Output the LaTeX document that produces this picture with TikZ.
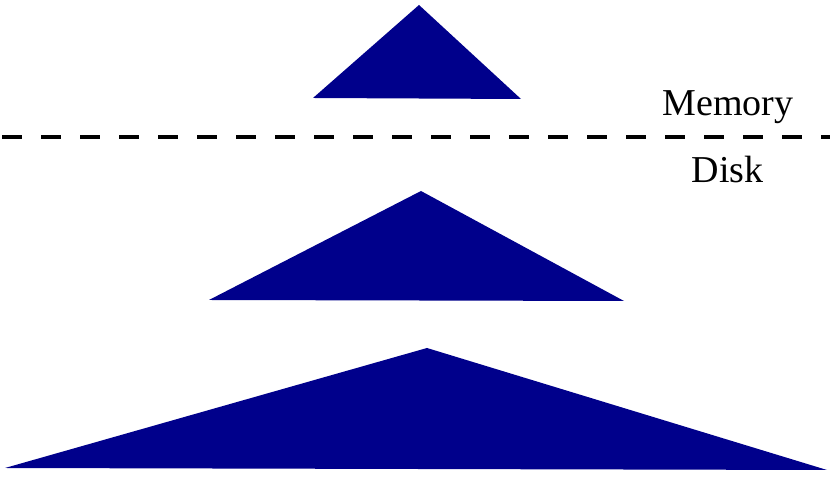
\documentclass[tikz,border=0pt]{standalone}
\usepackage{fontspec}
\setmainfont{Liberation Serif}
\definecolor{navy}{RGB}{0,0,139}
\begin{document}
\begin{tikzpicture}[x=1pt,y=1pt,
  tri/.style={fill=navy,draw=none},
  lbl/.style={font=\fontsize{38}{42}\selectfont,inner sep=0pt,anchor=base},
  sep/.style={line width=4.3pt,dash pattern=on 20pt off 19pt}]
\useasboundingbox (0,0) rectangle (830,478);
\fill[tri] (419,473) -- (313,380) -- (521,379) -- cycle;
\fill[tri] (421,287) -- (209,178) -- (624,177) -- cycle;
\fill[tri] (427,130) -- (5,10) -- (827,8) -- cycle;
\coordinate (l) at (2,341);
\coordinate (r) at (830,341);
\draw[sep] (l) -- (r);
\node[lbl] (mem) at (728,362) {Memory};
\node[lbl] (disk) at (727.5,295.5) {Disk};
\end{tikzpicture}
\end{document}
